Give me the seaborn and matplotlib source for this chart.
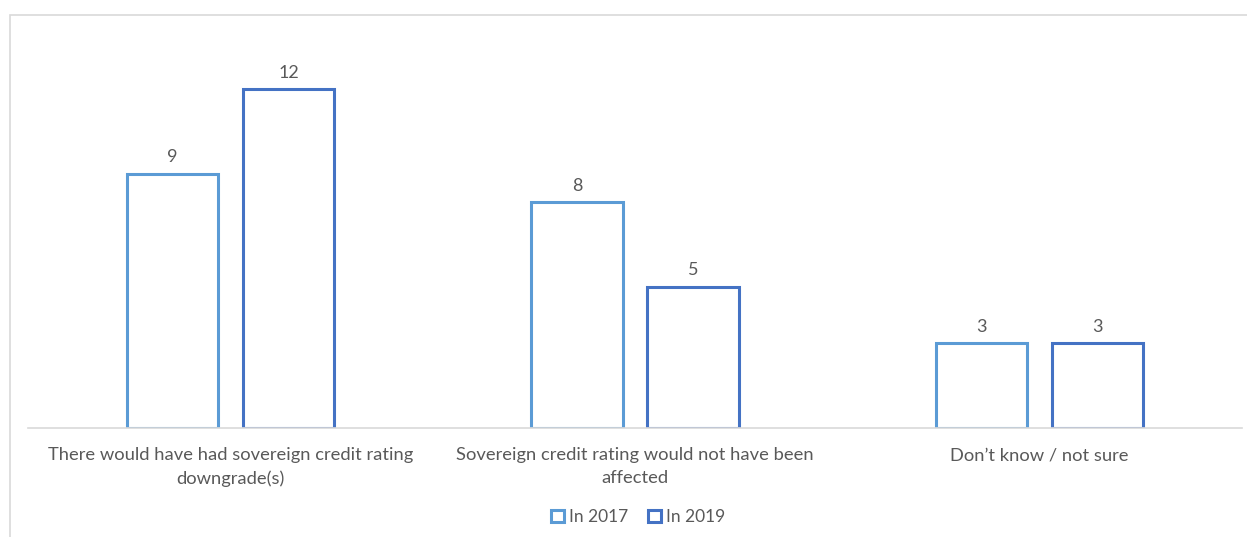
import matplotlib
matplotlib.use("Agg")
import matplotlib.pyplot as plt
import seaborn as sns
import pandas as pd
from matplotlib.patches import Rectangle

categories = [
    "There would have had sovereign credit rating\ndowngrade(s)",
    "Sovereign credit rating would not have been\naffected",
    "Don\u2019t know / not sure",
]
series_names = ["In 2017", "In 2019"]
values_2017 = [9, 8, 3]
values_2019 = [12, 5, 3]

df = pd.DataFrame({
    "category": categories * 2,
    "series": [series_names[0]] * 3 + [series_names[1]] * 3,
    "value": values_2017 + values_2019,
})

sns.set_theme(style="white")
plt.rcParams["font.family"] = ["Lato", "DejaVu Sans"]
text_color = "#595959"
palette = {"In 2017": "#5B9BD5", "In 2019": "#4472C4"}

W, H = 1247, 537
fig = plt.figure(figsize=(W / 100, H / 100), dpi=100)
ax = fig.add_axes([28.25 / W, (H - 428) / H, 1213.5 / W, (428 - 32.5) / H])

sns.barplot(data=df, x="category", y="value", hue="series", palette=palette,
            order=categories, hue_order=series_names, fill=False,
            width=0.574, gap=0.215, linewidth=2.2, ax=ax, errorbar=None)

ax.set_xlim(-0.5, 2.5)
ax.set_ylim(0, 14)
ax.set_xlabel("")
ax.set_ylabel("")
ax.set_yticks([])
for side in ["top", "right", "left"]:
    ax.spines[side].set_visible(False)
ax.spines["bottom"].set_color("#D9D9D9")
ax.spines["bottom"].set_linewidth(1.2)
ax.tick_params(axis="x", length=0, pad=14, labelsize=13.2, labelcolor=text_color)
for lbl in ax.get_xticklabels():
    lbl.set_linespacing(1.5)

for cont in ax.containers:
    ax.bar_label(cont, padding=6, fontsize=13, color=text_color)

sns.move_legend(ax, "center", bbox_to_anchor=(638 / W, (H - 517) / H),
                bbox_transform=fig.transFigure, ncol=2, frameon=False, title=None,
                fontsize=12.5, handlelength=0.75, handleheight=0.75,
                handletextpad=0.3, columnspacing=1.1, labelcolor=text_color)

# chart area border
fig.patches.append(Rectangle((10 / W, -0.1), 1.2, (H - 15) / H + 0.1,
                             transform=fig.transFigure, fill=False,
                             edgecolor="#D9D9D9", linewidth=1.2, zorder=0))

fig.savefig("out.png", dpi=100, facecolor="white")
